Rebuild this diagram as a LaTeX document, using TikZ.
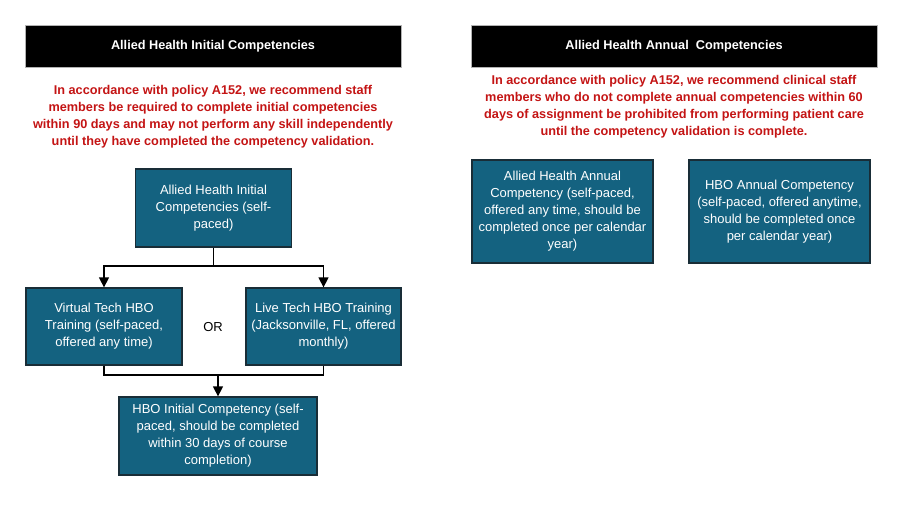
\documentclass[tikz,border=0pt]{standalone}
\usepackage{fontspec}
\setmainfont{Liberation Sans}
\usetikzlibrary{arrows.meta}
\definecolor{boxfill}{RGB}{20,98,128}
\definecolor{boxline}{RGB}{25,45,55}
\definecolor{redtext}{RGB}{196,20,20}
\begin{document}
\begin{tikzpicture}[x=1pt,y=-1pt,
  flowbox/.style={draw=boxline,line width=1.3pt,fill=boxfill,text=white,align=center,inner sep=0pt,
    font=\fontsize{13}{17}\selectfont},
  header/.style={draw=gray!60,line width=1pt,fill=black,text=white,align=center,inner sep=0pt,
    font=\bfseries\fontsize{12.7}{15}\selectfont},
  note/.style={text=redtext,align=center,inner sep=0pt,font=\bfseries\fontsize{12.7}{17}\selectfont},
  arr/.style={-{Triangle[width=10pt,length=10pt]},line width=1.4pt},
  conn/.style={line width=1.4pt}]
\useasboundingbox (0,0) rectangle (899,504);
\fill[white] (0,0) rectangle (899,504);

% headers
\node[header,minimum width=376pt,minimum height=42pt] (h1) at (213,46) {Allied Health Initial Competencies};
\node[header,minimum width=406pt,minimum height=42pt] (h2) at (674,46) {Allied Health Annual\ \ Competencies};

% notes
\node[note] (n1) at (213,117) {In accordance with policy A152, we recommend staff\\members be required to complete initial competencies\\within 90 days and may not perform any skill independently\\until they have completed the competency validation.};
\node[note] (n2) at (674,106.5) {In accordance with policy A152, we recommend clinical staff\\members who do not complete annual competencies within 60\\days of assignment be prohibited from performing patient care\\until the competency validation is complete.};

% left flow
\node[flowbox,minimum width=156pt,minimum height=78pt] (A) at (213.5,208) {Allied Health Initial\\Competencies (self-\\paced)};
\node[flowbox,minimum width=156pt,minimum height=77pt] (V) at (104,326.5) {Virtual Tech HBO\\Training (self-paced,\\offered any time)};
\node[flowbox,minimum width=155pt,minimum height=77pt] (L) at (323.5,326.5) {Live Tech HBO Training\\(Jacksonville, FL, offered\\monthly)};
\node[font=\fontsize{13}{15}\selectfont] (or) at (213,327) {OR};
\node[flowbox,minimum width=198pt,minimum height=78pt] (H) at (218,436) {HBO Initial Competency (self-\\paced, should be completed\\within 30 days of course\\completion)};

\coordinate (j) at (213.5,266);
\coordinate (m) at (218,375);
\draw[arr] (A.south) -- (j) -| (V.north);
\draw[arr] (j) -| (L.north);
\draw[conn] (V.south) |- (m) -| (L.south);
\draw[arr] (m) -- (H.north);

% right boxes
\node[flowbox,minimum width=181pt,minimum height=103pt] (R1) at (562.5,211.5) {Allied Health Annual\\Competency (self-paced,\\offered any time, should be\\completed once per calendar\\year)};
\node[flowbox,minimum width=181pt,minimum height=103pt] (R2) at (779.5,211.5) {HBO Annual Competency\\(self-paced, offered anytime,\\should be completed once\\per calendar year)};
\end{tikzpicture}
\end{document}
